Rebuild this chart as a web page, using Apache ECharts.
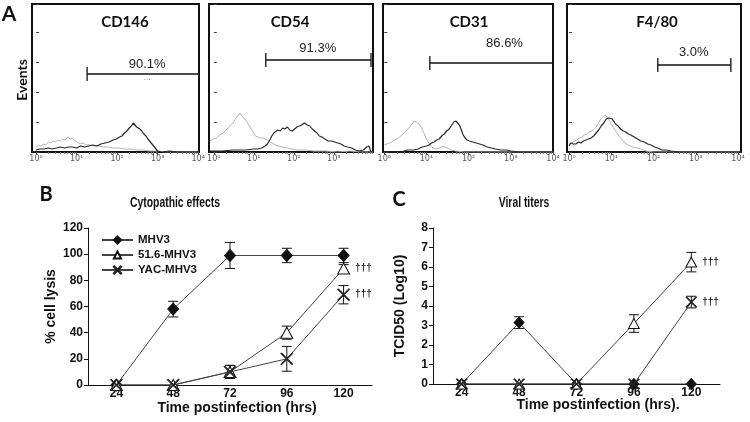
<!DOCTYPE html>
<html><head><meta charset="utf-8">
<script src="https://cdn.jsdelivr.net/npm/echarts@6/dist/echarts.min.js"></script>
<style>html,body{margin:0;padding:0;background:#fff}#c{width:750px;height:422px}</style>
</head><body><div id="c"></div>
<script>
// ---------- Panel A: flow cytometry histograms (x in log10 decades, y = events) ----------
const markers = ['CD146', 'CD54', 'CD31', 'F4/80'];
const decadeTicks = [0, 1, 2, 3, 4];
const decadeLabels = ['10⁰', '10¹', '10²', '10³', '10⁴'];

const ctrlCD146 = [[0,5],[0.06,7],[0.12,6],[0.18,8],[0.24,7],[0.3,10],[0.36,9],[0.42,11],[0.48,10],[0.54,12],[0.6,11],[0.66,13],[0.72,12],[0.78,15],[0.84,13],[0.9,14],[0.96,11],[1.02,10],[1.08,8],[1.16,9],[1.24,7],[1.34,7],[1.44,6],[1.54,6],[1.66,5],[1.78,5],[1.9,4],[2.04,4],[2.18,3],[2.32,3],[2.48,2],[2.64,2],[2.8,1],[3.0,1],[3.2,0],[3.6,0],[4,0]];
const markCD146 = [[0,2],[0.1,3],[0.2,3],[0.3,4],[0.4,3],[0.5,4],[0.6,5],[0.7,4],[0.8,5],[0.9,5],[1.0,4],[1.1,6],[1.2,5],[1.3,6],[1.4,7],[1.5,6],[1.6,8],[1.7,9],[1.8,10],[1.9,12],[1.98,13],[2.06,15],[2.12,16],[2.18,19],[2.24,21],[2.3,24],[2.35,26],[2.4,29],[2.44,28],[2.48,25],[2.52,26],[2.56,23],[2.61,21],[2.66,18],[2.71,16],[2.76,13],[2.82,10],[2.88,7],[2.94,4],[3.0,1],[3.1,0],[3.3,1],[3.5,0],[4,0]];
const ctrlCD54 = [[-0.1,11],[-0.02,13],[0.06,14],[0.12,16],[0.18,18],[0.24,19],[0.3,22],[0.36,24],[0.42,27],[0.48,29],[0.54,33],[0.6,36],[0.65,39],[0.7,36],[0.75,34],[0.8,32],[0.86,28],[0.92,24],[0.98,20],[1.04,16],[1.1,15],[1.16,14],[1.22,14],[1.28,13],[1.34,12],[1.4,10],[1.46,9],[1.54,7],[1.62,6],[1.72,5],[1.84,4],[1.96,3],[2.1,2],[2.3,2],[2.5,1],[2.8,1],[3.1,0],[3.4,1],[3.7,0],[3.98,0]];
const markCD54 = [[-0.1,1],[0.2,1],[0.5,2],[0.8,2],[1.0,3],[1.1,3],[1.2,4],[1.28,6],[1.34,8],[1.4,12],[1.45,16],[1.5,19],[1.55,20],[1.6,22],[1.66,21],[1.72,24],[1.78,23],[1.84,25],[1.9,22],[1.96,21],[2.02,23],[2.08,25],[2.14,26],[2.2,27],[2.26,29],[2.3,30],[2.34,27],[2.4,26],[2.46,23],[2.52,21],[2.58,19],[2.64,16],[2.7,15],[2.78,13],[2.86,11],[2.94,11],[3.02,10],[3.1,9],[3.18,8],[3.26,6],[3.34,5],[3.44,4],[3.54,2],[3.64,1],[3.74,2],[3.82,5],[3.88,6],[3.92,1],[3.96,0]];
const ctrlCD31 = [[0,7],[0.06,8],[0.12,9],[0.18,10],[0.24,12],[0.3,13],[0.36,15],[0.42,17],[0.48,20],[0.54,22],[0.6,25],[0.66,28],[0.72,31],[0.76,33],[0.8,29],[0.84,27],[0.88,25],[0.92,21],[0.96,17],[1.0,13],[1.04,10],[1.1,6],[1.16,4],[1.24,3],[1.32,4],[1.38,6],[1.44,5],[1.5,4],[1.58,2],[1.7,1],[1.9,0],[2.5,0],[4,0]];
const markCD31 = [[0,0],[0.4,0],[0.55,2],[0.7,2],[0.8,3],[0.9,5],[1.0,6],[1.06,7],[1.12,9],[1.18,10],[1.24,12],[1.3,13],[1.36,16],[1.42,18],[1.48,21],[1.54,23],[1.6,27],[1.65,30],[1.7,31],[1.74,30],[1.78,27],[1.82,23],[1.86,18],[1.9,15],[1.96,12],[2.02,11],[2.1,10],[2.18,9],[2.26,8],[2.34,7],[2.44,5],[2.54,4],[2.64,3],[2.76,2],[2.9,2],[3.0,1],[3.2,0],[4,0]];
const ctrlF480 = [[0,8],[0.06,9],[0.12,11],[0.18,12],[0.24,14],[0.3,15],[0.36,17],[0.42,18],[0.48,20],[0.54,21],[0.6,23],[0.66,26],[0.7,29],[0.75,33],[0.8,35],[0.86,37],[0.9,35],[0.95,32],[1.0,28],[1.05,24],[1.1,21],[1.15,18],[1.2,15],[1.26,12],[1.32,9],[1.4,7],[1.5,5],[1.6,4],[1.7,3],[1.82,1],[2.0,0],[4.05,0]];
const markF480 = [[0,6],[0.04,9],[0.1,8],[0.16,8],[0.22,10],[0.28,9],[0.34,11],[0.4,12],[0.46,13],[0.52,14],[0.58,16],[0.64,19],[0.7,22],[0.76,26],[0.82,29],[0.88,33],[0.94,34],[0.98,35],[1.02,33],[1.06,31],[1.1,28],[1.16,26],[1.22,23],[1.28,21],[1.34,20],[1.4,18],[1.46,17],[1.54,15],[1.62,13],[1.7,11],[1.78,10],[1.86,8],[1.94,7],[2.02,5],[2.1,4],[2.2,2],[2.3,2],[2.42,1],[2.6,0],[4.05,0]];

const gateStart = [1.26, 1.3, 1.08, 2.1];
const gateEnd = [4.02, 3.93, 4.0, 3.83];
const gateLevel = [78, 92, 89, 87];
const gatePct = ['90.1%', '91.3%', '86.6%', '3.0%'];
const gateLabelX = [2.74, 2.6, 2.85, 2.95];
const gateLabelY = [88, 104, 109, 100];

// ---------- Panels B and C ----------
const timeCats = ['24', '48', '72', '96', '120'];
const seriesNames = ['MHV3', '51.6-MHV3', 'YAC-MHV3'];
const lysisMHV3 = [0, 58, 99, 99, 99];
const lysisMHV3Err = [0, 6, 10, 5.5, 5.5];
const lysis516 = [0, 0, 10, 40, 89];
const lysis516Err = [0, 0, 5, 5, 3];
const lysisYAC = [0, 0, 10, 20, 69];
const lysisYACErr = [0, 0, 5, 9.5, 7];
const titerMHV3 = [0, 3.15, 0, 0, 0];
const titerMHV3Err = [0, 0.3, 0, 0, 0];
const titer516 = [0, 0, 0, 3.1, 6.25];
const titer516Err = [0, 0, 0, 0.45, 0.5];
const titerYAC = [0, 0, 0, 0, 4.2];
const titerYACErr = [0, 0, 0, 0, 0.3];
const signifMark = '†††';

// ---------- layout ----------
const SANS = "'Liberation Sans', Arial, sans-serif";
const CAL = "Lato, 'Open Sans', sans-serif";
const histBoxes = [
  {left: 32, width: 167, min: -0.1, max: 4.02},
  {left: 209, width: 164, min: -0.12, max: 3.98},
  {left: 383, width: 170, min: -0.03, max: 4.0},
  {left: 567, width: 174, min: -0.05, max: 4.07}
];
const histTitlePos = [[125, 22], [290, 22], [469, 22], [657, 22]];
const ctrlData = [ctrlCD146, ctrlCD54, ctrlCD31, ctrlF480];
const markData = [markCD146, markCD54, markCD31, markF480];

const minorTicks = [];
for (let n = 0; n < 4; n++) for (let k = 2; k <= 9; k++) minorTicks.push(n + Math.log10(k));

const grid = [], xAxis = [], yAxis = [], series = [];
histBoxes.forEach((b, i) => {
  grid.push({left: b.left, width: b.width, top: 4, height: 148, show: true, borderColor: '#111', borderWidth: 2, backgroundColor: 'transparent'});
  xAxis.push({type: 'value', gridIndex: i, min: b.min, max: b.max,
    axisLine: {show: false}, splitLine: {show: false},
    axisTick: {show: true, length: 3, lineStyle: {color: '#444', width: 1}, customValues: decadeTicks},
    axisLabel: {show: true, customValues: decadeTicks, fontSize: 8, color: '#555', fontFamily: "'DejaVu Sans', sans-serif", margin: 3,
      formatter: v => decadeLabels[Math.round(v)]}});
  yAxis.push({type: 'value', gridIndex: i, min: 0, max: 148, interval: 30,
    axisLine: {show: false}, splitLine: {show: false}, axisLabel: {show: false},
    axisTick: {show: true, inside: true, length: 3, lineStyle: {color: '#444'}}});
});
// minor log ticks
histBoxes.forEach((b, i) => {
  xAxis.push({type: 'value', gridIndex: i, min: b.min, max: b.max, position: 'bottom',
    axisLine: {show: false}, splitLine: {show: false}, axisLabel: {show: false},
    axisTick: {show: true, length: 2, lineStyle: {color: '#777', width: 1}, customValues: minorTicks}});
});
histBoxes.forEach((b, i) => {
  series.push({type: 'line', name: 'ctrl' + i, xAxisIndex: i, yAxisIndex: i, data: ctrlData[i], symbol: 'none',
    lineStyle: {color: '#b4b4b4', width: 1}, z: 2, silent: true});
  series.push({type: 'line', name: 'mark' + i, xAxisIndex: i, yAxisIndex: i, data: markData[i], symbol: 'none',
    lineStyle: {color: '#2a2a2a', width: 1.2}, z: 3, silent: true});
  series.push({type: 'custom', xAxisIndex: i, yAxisIndex: i, clip: false, silent: true, z: 4,
    data: [[gateStart[i], gateEnd[i], gateLevel[i], gateLabelX[i], gateLabelY[i]]],
    renderItem: (params, api) => {
      const p1 = api.coord([api.value(0), api.value(2)]);
      const p2 = api.coord([api.value(1), api.value(2)]);
      const pl = api.coord([api.value(3), api.value(4)]);
      const h = 7, st = {stroke: '#111', lineWidth: 1.3};
      return {type: 'group', children: [
        {type: 'line', shape: {x1: p1[0], y1: p1[1], x2: p2[0], y2: p2[1]}, style: st},
        {type: 'line', shape: {x1: p1[0], y1: p1[1] - h, x2: p1[0], y2: p1[1] + h}, style: st},
        {type: 'line', shape: {x1: p2[0], y1: p2[1] - h, x2: p2[0], y2: p2[1] + h}, style: st},
        {type: 'text', x: pl[0], y: pl[1], style: {text: gatePct[i], fill: '#222', font: '13px ' + SANS, align: 'center', verticalAlign: 'middle'}}
      ]};
    }});
});

// B and C grids
grid.push({left: 88, top: 228, width: 284, height: 157});   // index 4
grid.push({left: 433, top: 228, width: 287, height: 156});  // index 5
[4, 5].forEach(g => {
  xAxis.push({type: 'category', gridIndex: g, data: timeCats,
    axisLine: {lineStyle: {color: '#111', width: 1}},
    axisTick: {length: 4, lineStyle: {color: '#111'}},
    axisLabel: {fontSize: 12, fontWeight: 'bold', color: '#111', fontFamily: SANS, margin: 3},
    splitLine: {show: false}});
});
yAxis.push({type: 'value', gridIndex: 4, min: 0, max: 120, interval: 20,
  axisLine: {show: true, lineStyle: {color: '#111'}}, axisTick: {show: true, length: 4, lineStyle: {color: '#111'}},
  axisLabel: {fontSize: 12, fontWeight: 'bold', color: '#111', fontFamily: SANS, margin: 5}, splitLine: {show: false},
  name: '% cell lysis', nameLocation: 'middle', nameGap: 30, nameRotate: 90,
  nameTextStyle: {fontSize: 14, fontWeight: 'bold', color: '#111', fontFamily: SANS}});
yAxis.push({type: 'value', gridIndex: 5, min: 0, max: 8, interval: 1,
  axisLine: {show: true, lineStyle: {color: '#111'}}, axisTick: {show: true, length: 4, lineStyle: {color: '#111'}},
  axisLabel: {fontSize: 12, fontWeight: 'bold', color: '#111', fontFamily: SANS, margin: 5}, splitLine: {show: false},
  name: 'TCID50 (Log10)', nameLocation: 'middle', nameGap: 26, nameRotate: 90,
  nameTextStyle: {fontSize: 14, fontWeight: 'bold', color: '#111', fontFamily: SANS}});

const xShape = 'path://M0,0.6 L0.6,0 L5,4.4 L9.4,0 L10,0.6 L5.6,5 L10,9.4 L9.4,10 L5,5.6 L0.6,10 L0,9.4 L4.4,5 Z';
const styles = [
  {symbol: 'diamond', color: '#111', border: '#111', size: [11, 12]},
  {symbol: 'triangle', color: '#fff', border: '#111', size: [12, 11]},
  {symbol: xShape, color: '#222', border: '#222', size: [12, 12]}
];

function errorSeries(vals, errs) {
  const data = [];
  vals.forEach((v, i) => { if (errs[i] > 0) data.push([i, v - errs[i], v + errs[i]]); });
  return {type: 'custom', silent: true, z: 3, data,
    renderItem: (params, api) => {
      const lo = api.coord([api.value(0), api.value(1)]);
      const hi = api.coord([api.value(0), api.value(2)]);
      const w = 5, st = {stroke: '#111', lineWidth: 1};
      return {type: 'group', children: [
        {type: 'line', shape: {x1: lo[0], y1: lo[1], x2: hi[0], y2: hi[1]}, style: st},
        {type: 'line', shape: {x1: hi[0] - w, y1: hi[1], x2: hi[0] + w, y2: hi[1]}, style: st},
        {type: 'line', shape: {x1: lo[0] - w, y1: lo[1], x2: lo[0] + w, y2: lo[1]}, style: st}
      ]};
    }};
}

function lineSeries(k, vals, marked, symScale) {
  const s = styles[k];
  return {type: 'line', name: seriesNames[k],
    data: vals.map((v, i) => (marked && i === vals.length - 1) ? {value: v, label: {show: true, position: 'right', distance: 5,
      formatter: signifMark, fontSize: 10, fontWeight: 'bold', color: '#222', fontFamily: SANS}} : v),
    symbol: s.symbol, symbolSize: [s.size[0] * symScale, s.size[1] * symScale], showAllSymbol: true,
    itemStyle: {color: s.color, borderColor: s.border, borderWidth: 1},
    lineStyle: {color: '#444', width: 1}, z: 5 + k, silent: true};
}

// xAxis indices: 0-3 hist major, 4-7 hist minor, 8 = B, 9 = C
function bcSeries(xIdx, yIdx, data, errs, marks, symScale) {
  data.forEach((vals, k) => {
    const es = errorSeries(vals, errs[k]); es.xAxisIndex = xIdx; es.yAxisIndex = yIdx;
    series.push(es);
  });
  data.forEach((vals, k) => {
    const ls = lineSeries(k, vals, marks[k], symScale); ls.xAxisIndex = xIdx; ls.yAxisIndex = yIdx;
    series.push(ls);
  });
}
bcSeries(8, 4, [lysisMHV3, lysis516, lysisYAC], [lysisMHV3Err, lysis516Err, lysisYACErr], [false, true, true], 1);
bcSeries(9, 5, [titerMHV3, titer516, titerYAC], [titerMHV3Err, titer516Err, titerYACErr], [false, true, true], 0.9);

const txt = (text, x, y, font, extra, fill) => Object.assign({type: 'text', x, y, silent: true,
  style: {text, font, fill: fill || '#111', align: 'center', verticalAlign: 'middle'}}, extra || {});
const graphic = [
  txt('A', 9, 14, 'bold 21px ' + CAL),
  txt('Events', 22, 80, 'bold 14px ' + CAL, {rotation: Math.PI / 2}),
  txt('···', 147, 80, '8px ' + SANS, null, '#999'),
  txt('B', 46, 195, 'bold 20px ' + CAL),
  txt('C', 399, 200, 'bold 20px ' + CAL),
  txt('Cytopathic effects', 175, 203, 'bold 14px ' + SANS, {scaleX: 0.74}),
  txt('Viral titers', 524, 203, 'bold 14px ' + SANS, {scaleX: 0.74}),
  txt('Time postinfection (hrs)', 237, 408, 'bold 14px ' + SANS),
  txt('Time postinfection (hrs).', 598, 405, 'bold 14px ' + SANS)
];
markers.forEach((m, i) => graphic.push(txt(m, histTitlePos[i][0], histTitlePos[i][1], 'bold 15px ' + CAL)));

const chart = echarts.init(document.getElementById('c'), null, {renderer: 'canvas'});
chart.setOption({
  animation: false,
  backgroundColor: '#fff',
  grid, xAxis, yAxis, series, graphic,
  legend: {data: seriesNames, orient: 'vertical', left: 96, top: 228, itemWidth: 31, itemHeight: 9, itemGap: 1,
    textStyle: {fontSize: 11.5, fontWeight: 'bold', color: '#111', fontFamily: SANS, lineHeight: 14}, selectedMode: false}
});
</script></body></html>
